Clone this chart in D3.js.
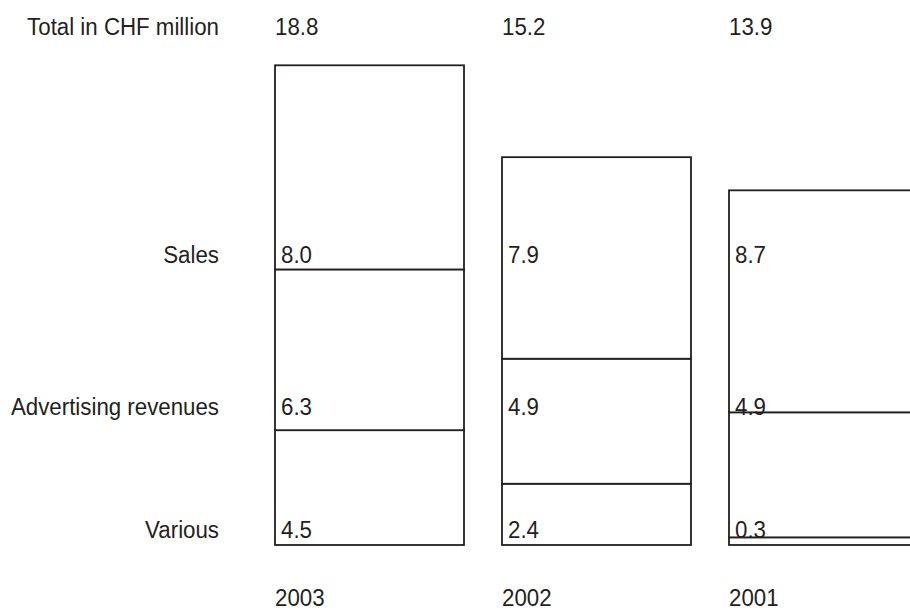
<!DOCTYPE html>
<html>
<head>
<meta charset="utf-8">
<script src="https://cdn.jsdelivr.net/npm/d3@7/dist/d3.min.js"></script>
<style>
  html, body { margin: 0; padding: 0; background: #fff; overflow: hidden; }
  svg { display: block; }
  text { font-family: "Liberation Sans", Arial, sans-serif; font-size: 24.5px; fill: #231f20; }
</style>
</head>
<body>
<svg id="chart" width="910" height="613"></svg>
<script>
// Revenue breakdown, CHF million
const years = ["2003", "2002", "2001"];
const categories = ["Various", "Advertising revenues", "Sales"];
const various = [4.5, 2.4, 0.3];
const advertising = [6.3, 4.9, 4.9];
const sales = [8.0, 7.9, 8.7];
const totals = [18.8, 15.2, 13.9];
const totalLabel = "Total in CHF million";

const rows = years.map((y, i) => ({
  year: y,
  "Various": various[i],
  "Advertising revenues": advertising[i],
  "Sales": sales[i],
  total: totals[i]
}));

const svg = d3.select("#chart");

// Layout
const barLeft = 275, step = 227, barWidth = 189;
const baseY = 545, topY = 65.3;
const innerPad = (step - barWidth) / step;
const squeeze = 0.91; // horizontal compression giving a condensed face

const x = d3.scaleBand()
  .domain(years)
  .range([barLeft, barLeft + step * (years.length - innerPad)])
  .paddingInner(innerPad)
  .paddingOuter(0)
  .align(0);

const y = d3.scaleLinear()
  .domain([0, d3.max(totals)])
  .range([baseY, topY]);

const stack = d3.stack().keys(categories);
const series = stack(rows);

// Baselines of the text rows
const labelRightX = 219;
const rowBaseline = { "Sales": 263, "Advertising revenues": 415, "Various": 538 };
const totalBaseline = 35;
const yearBaseline = 606;

// Place a condensed text item at (px, py)
function put(sel, px, py) {
  return sel.attr("transform", (d, i) => {
    const xx = typeof px === "function" ? px(d, i) : px;
    const yy = typeof py === "function" ? py(d, i) : py;
    return `translate(${xx},${yy}) scale(${squeeze},1)`;
  });
}

// Stacked outlined segments
const segs = svg.append("g")
  .selectAll("g")
  .data(series)
  .join("g");

segs.selectAll("rect")
  .data(d => d)
  .join("rect")
  .attr("x", d => x(d.data.year))
  .attr("y", d => y(d[1]))
  .attr("width", x.bandwidth())
  .attr("height", d => y(d[0]) - y(d[1]))
  .attr("fill", "#fff")
  .attr("stroke", "#231f20")
  .attr("stroke-width", 1.8);

// Row labels on the left
put(svg.append("g")
  .selectAll("text")
  .data(categories)
  .join("text")
  .attr("text-anchor", "end")
  .text(d => d), labelRightX, d => rowBaseline[d]);

put(svg.append("text")
  .attr("text-anchor", "end")
  .text(totalLabel), labelRightX, totalBaseline);

// Segment values
const fmt = d3.format(".1f");
series.forEach(s => {
  put(svg.append("g")
    .selectAll("text")
    .data(s)
    .join("text")
    .text(d => fmt(d[1] - d[0])), d => x(d.data.year) + 6, rowBaseline[s.key]);
});

// Totals above the bars
put(svg.append("g")
  .selectAll("text")
  .data(rows)
  .join("text")
  .text(d => fmt(d.total)), d => x(d.year), totalBaseline);

// Year axis labels
put(svg.append("g")
  .selectAll("text")
  .data(years)
  .join("text")
  .text(d => d), d => x(d), yearBaseline);
</script>
</body>
</html>
